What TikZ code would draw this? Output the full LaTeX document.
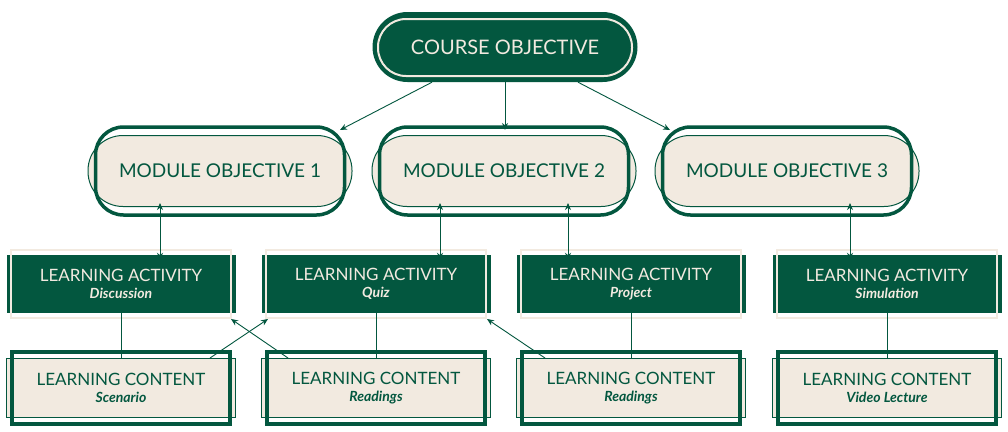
\documentclass[tikz,border=0pt]{standalone}
\usepackage{fontspec}
\setmainfont{Lato}
\usetikzlibrary{arrows.meta}
\definecolor{gr}{HTML}{03573F}
\definecolor{cr}{HTML}{F2EAE0}
\newcommand\subtxt[1]{{\fontsize{14}{16}\selectfont\bfseries\itshape #1}}
\begin{document}
\begin{tikzpicture}[x=1pt,y=-1pt,
  arr/.style={draw=gr,line width=0.9pt,-{Stealth[length=7pt,width=6pt]}},
  darr/.style={arr,{Stealth[length=7pt,width=6pt]}-{Stealth[length=7pt,width=6pt]}},
  pillD/.style={rounded corners=35pt,fill=gr,minimum width=265pt,minimum height=70pt,text=cr,font=\fontsize{20}{22}\selectfont},
  pillL/.style={rounded corners=35pt,fill=cr,draw=gr,line width=1pt,minimum width=264pt,minimum height=71pt,text=gr,font=\fontsize{19}{21}\selectfont},
  act/.style={fill=gr,minimum width=229pt,minimum height=58pt,text=cr,align=center,font=\fontsize{17}{19}\selectfont},
  cont/.style={fill=cr,draw=gr,line width=1pt,minimum width=229pt,minimum height=59pt,text=gr,align=center,font=\fontsize{17}{19}\selectfont}]
\useasboundingbox[fill=white] (0,0) rectangle (1008,431);
\node[pillD] (co) at (505,47) {COURSE OBJECTIVE};
\draw[cr,line width=2pt,rounded corners=28pt] (378,19) rectangle (632,76);
\foreach \n/\x/\t in {m1/220/1,m2/504/2,m3/787/3}{
  \node[pillL] (\n) at (\x,171) {MODULE OBJECTIVE \t};
  \draw[gr,line width=3.5pt,rounded corners=28pt] ([shift={(8pt,8pt)}]\n.north west) rectangle ([shift={(-8pt,-8pt)}]\n.south east);
}
\foreach \n/\x/\s in {a1/121/Discussion,a2/376/Quiz,a3/631/Project,a4/887/Simulation}{
  \node[act] (\n) at (\x,284) {LEARNING ACTIVITY\\[-2pt]\subtxt{\s}};
  \draw[cr,line width=2pt] ([shift={(5pt,5pt)}]\n.north west) rectangle ([shift={(-5pt,-5pt)}]\n.south east);
}
\foreach \n/\x/\s in {c1/121/Scenario,c2/376/Readings,c3/631/Readings,c4/887/Video Lecture}{
  \node[cont] (\n) at (\x,388) {LEARNING CONTENT\\[-2pt]\subtxt{\s}};
  \draw[gr,line width=3.5pt] ([shift={(6pt,6pt)}]\n.north west) rectangle ([shift={(-6pt,-6pt)}]\n.south east);
}
% course to modules
\coordinate (k1) at (340,130); \coordinate (k2) at (505,130); \coordinate (k3) at (670,130);
\draw[arr] (co.south -| 432,0) -- (k1);
\draw[arr] (co.south) -- (k2);
\draw[arr] (co.south -| 578,0) -- (k3);
% modules <-> activities
\draw[darr] ([yshift=4pt]m1.south -| 160,0) -- ([yshift=-5pt]a1.north -| 160,0);
\draw[darr] ([yshift=4pt]m2.south -| 440,0) -- ([yshift=-5pt]a2.north -| 440,0);
\draw[darr] ([yshift=4pt]m2.south -| 568,0) -- ([yshift=-5pt]a3.north -| 568,0);
\draw[darr] ([yshift=4pt]m3.south -| 850,0) -- ([yshift=-5pt]a4.north -| 850,0);
% content -> activities
\coordinate (t1) at (268,319); \coordinate (t2) at (231,319); \coordinate (t3) at (487,319);
\draw[arr] (c1.north) -- ([yshift=8pt]a1.south);
\draw[arr] (c1.north -| 210,0) -- (t1);
\draw[arr] (c2.north -| 288,0) -- (t2);
\draw[arr] (c2.north) -- ([yshift=8pt]a2.south);
\draw[arr] (c3.north -| 545,0) -- (t3);
\draw[arr] (c3.north) -- ([yshift=8pt]a3.south);
\draw[arr] (c4.north) -- ([yshift=8pt]a4.south);
\end{tikzpicture}
\end{document}
